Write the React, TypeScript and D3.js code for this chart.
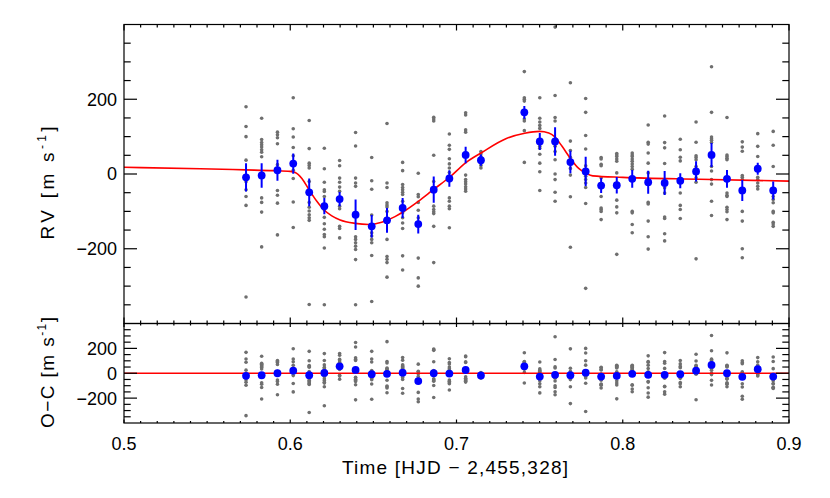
import React from 'react';
import * as d3 from 'd3';

// Column times (HJD - 2,455,328)
const times = [0.5734, 0.5828, 0.5923, 0.6018, 0.6114, 0.6205, 0.6297, 0.6393, 0.649, 0.6582, 0.6676, 0.677, 0.6863, 0.6957, 0.7055, 0.7147,
  0.7408, 0.7501, 0.7593, 0.7685, 0.7777, 0.787, 0.7964, 0.8057, 0.8153, 0.8252, 0.8346, 0.8441, 0.8534, 0.8627, 0.8719, 0.8812, 0.8905];

// Binned RV means and errors (blue)
const rvMean = [-9, -4, 10, 28, -49, -86, -67, -109, -140, -124, -91, -134, -42, -12, 51, 37,
  165, 87, 87, 32, 7, -31, -30, -13, -22, -24, -18, 7, 51, -13, -44, 14, -44];
const rvErr = [38, 33, 28, 27, 37, 22, 19, 41, 30, 33, 27, 25, 35, 22, 22, 15,
  17, 23, 38, 30, 39, 20, 22, 24, 31, 32, 20, 27, 32, 24, 28, 16, 24];

// Binned residuals O-C (blue, lower panel)
const resMean = [-21, -16, 0, 21, -16, 3, 56, 27, -8, -5, 5, -63, 0, -3, 26, -18,
  56, -27, -13, -16, 5, -27, -21, -5, -13, -13, -8, 21, 67, 0, -29, 32, -27];

// Individual RV measurements (grey) per column
const rvObs: number[][] = [
  [180, 127, 100, 37, -21, -42, -60, -84, -329],
  [149, 92, 84, 78, 72, 65, 58, 46, -64, -76, -102, -195],
  [112, 105, 97, 81, 25, -44, -57, -78, -163],
  [204, 121, 99, 71, 49, 10, -12, -75, -143],
  [143, 68, 29, 23, 16, -20, -76, -89, -99, -109, -117, -124, -349],
  [69, 14, -22, -42, -47, -60, -96, -116, -133, -148, -162, -168, -198, -350],
  [36, 22, -11, -22, -35, -46, -86, -93, -140, -146, -171],
  [111, 75, -11, -24, -33, -168, -175, -184, -193, -202, -229, -350],
  [44, -18, -41, -110, -157, -166, -175, -184, -218, -341],
  [135, -24, -36, -77, -83, -88, -100, -175, -221, -228, -237, -276],
  [31, 9, -28, -36, -42, -49, -55, -73, -104, -117, -131, -146, -219, -257],
  [2, -55, -61, -76, -97, -117, -225, -278, -300],
  [152, 147, 142, 50, -20, -86, -95, -101, -106, -140, -237],
  [107, 77, 66, 41, 27, 16, 4, -64, -73, -86, -93, -144],
  [164, 158, 118, 112, -3, -15, -21, -27, -34, -40, -46],
  [60, 54, 47, 29, 23, 16],
  [274, 204, 200, 195, 147, 142, 116, 31],
  [204, 149, 139, 130, 122, 74, 69, 53, 29, 6, -44],
  [393, 210, 151, 142, 74, 60, 38, 0, -15, -49, -73],
  [244, 88, 63, 45, 15, -3, -61, -196],
  [202, 165, 103, 67, 22, -6, -15, -24, -36, -79, -306],
  [44, 40, 26, 22, -10, -60, -91, -95, -100, -122],
  [55, 51, 47, 40, 34, 3, -70, -88, -104, -215],
  [56, 51, 47, 40, 34, 27, 20, 13, -100, -104, -135, -157],
  [131, 85, 80, 56, 29, 3, -76, -80, -126, -168, -201],
  [155, 84, 70, 28, -37, -51, -115, -119, -160, -179],
  [93, 65, 45, 35, -51, -84, -95, -119],
  [139, 85, 49, 44, 38, 20, -10, -22, -227],
  [287, 165, 99, 94, 90, 84, 20, 8, -15, -27, -73, -111],
  [151, 51, 47, 42, 38, -51, -57, -60, -89, -95, -101, -122],
  [86, 72, 61, -4, -9, -15, -100, -126, -200, -224],
  [108, 74, 47, -9, -15, -24, -33, -40],
  [114, 77, 20, -60, -68, -77, -100, -104, -129, -134, -140],
];

// Model curve (red)
const modelT = [0.5, 0.546, 0.573, 0.59, 0.6, 0.603, 0.607, 0.611, 0.616, 0.6205, 0.625, 0.63, 0.639, 0.647, 0.655, 0.663, 0.668,
  0.677, 0.686, 0.696, 0.7055, 0.715, 0.73, 0.741, 0.75, 0.7555, 0.759, 0.7635, 0.7685, 0.7735, 0.7777, 0.782, 0.8, 0.846, 0.9];
const modelV = [18, 14, 11, 9, 7, 4, -12, -40, -73, -97, -112, -123, -132, -135, -129, -114, -101,
  -73, -42, -8, 30, 57, 95, 109, 114, 110, 100, 74, 42, 15, 3, -5, -9, -14, -19];

const xTickLabels = ['0.5', '0.6', '0.7', '0.8', '0.9'];
const xMajorTicks = [0.5, 0.6, 0.7, 0.8, 0.9];
const yMajorTicks = [-200, 0, 200];
const yTickLabels = ['\u2212200', '0', '200'];

const W = 830;
const H = 498;
const X0 = 124, X1 = 789;
const TOP = 24.5, MID = 323.5, BOT = 423;
const FONT = '"Liberation Sans", Arial, Helvetica, sans-serif';
const GREY = '#6f6f6f';
const BLUE = '#0000ff';
const RED = '#ff0000';

export default function App() {
  const x = d3.scaleLinear().domain([0.5, 0.9]).range([X0, X1]);
  const yU = d3.scaleLinear().domain([-400, 400]).range([MID, TOP]);
  const yL = d3.scaleLinear().domain([-400, 400]).range([BOT, MID]);

  const xMinor = x.ticks(40);
  const yMinorU = yU.ticks(16).filter((v) => Math.abs(v) < 400);

  const line = d3.line<number>()
    .x((_, i) => x(modelT[i]))
    .y((v) => yU(v))
    .curve(d3.curveMonotoneX);
  const modelPath = line(modelV) || '';

  const isMajorX = (t: number) => xMajorTicks.some((m) => Math.abs(m - t) < 1e-6);

  const panelTicks = (ys: d3.ScaleLinear<number, number>, top: number, bottom: number, xMaj: number, xMin: number) => {
    const els: React.ReactNode[] = [];
    xMinor.forEach((t, i) => {
      const px = x(t);
      const len = isMajorX(t) ? xMaj : xMin;
      els.push(<line key={`xt${i}`} x1={px} x2={px} y1={top} y2={top + len} />);
      els.push(<line key={`xb${i}`} x1={px} x2={px} y1={bottom} y2={bottom - len} />);
    });
    yMinorU.forEach((v, i) => {
      const py = ys(v);
      const len = v % 200 === 0 ? 13 : 6.7;
      els.push(<line key={`yl${i}`} x1={X0} x2={X0 + len} y1={py} y2={py} />);
      els.push(<line key={`yr${i}`} x1={X1} x2={X1 - len} y1={py} y2={py} />);
    });
    return els;
  };

  return (
    <svg width={W} height={H} style={{ position: 'absolute', left: 0, top: 0, background: '#fff' }} fontFamily={FONT}>
      <defs>
        <clipPath id="clipU"><rect x={X0} y={TOP} width={X1 - X0} height={MID - TOP} /></clipPath>
        <clipPath id="clipL"><rect x={X0} y={MID} width={X1 - X0} height={BOT - MID} /></clipPath>
      </defs>

      {/* Upper panel */}
      <g clipPath="url(#clipU)">
        {rvObs.map((col, i) => col.map((v, j) => (
          <circle key={`g${i}-${j}`} cx={x(times[i])} cy={yU(v)} r={1.8} fill={GREY} />
        )))}
        <path d={modelPath} fill="none" stroke={RED} strokeWidth={1.6} />
        {times.map((t, i) => (
          <line key={`e${i}`} x1={x(t)} x2={x(t)} y1={yU(rvMean[i] - rvErr[i])} y2={yU(rvMean[i] + rvErr[i])} stroke={BLUE} strokeWidth={2} />
        ))}
        {times.map((t, i) => (
          <circle key={`b${i}`} cx={x(t)} cy={yU(rvMean[i])} r={3.9} fill={BLUE} />
        ))}
      </g>

      {/* Lower panel */}
      <g clipPath="url(#clipL)">
        {rvObs.map((col, i) => col.map((v, j) => (
          <circle key={`rg${i}-${j}`} cx={x(times[i])} cy={yL(v - (rvMean[i] - resMean[i]))} r={1.8} fill={GREY} />
        )))}
        <line x1={X0} x2={X1} y1={yL(0)} y2={yL(0)} stroke={RED} strokeWidth={1.6} />
        {times.map((t, i) => (
          <circle key={`rb${i}`} cx={x(t)} cy={yL(resMean[i])} r={3.9} fill={BLUE} />
        ))}
      </g>

      {/* Frames and ticks */}
      <g stroke="#000" strokeWidth={1.2} fill="none">
        <rect x={X0} y={TOP} width={X1 - X0} height={MID - TOP} />
        <rect x={X0} y={MID} width={X1 - X0} height={BOT - MID} />
        {panelTicks(yU, TOP, MID, 6, 3)}
        {panelTicks(yL, MID, BOT, 3.5, 2)}
      </g>

      {/* Y tick labels */}
      <g fontSize={18} fill="#000" textAnchor="end">
        {yMajorTicks.map((v, i) => (
          <text key={`yu${i}`} x={117} y={yU(v)} dy="0.36em">{yTickLabels[i]}</text>
        ))}
        {yMajorTicks.map((v, i) => (
          <text key={`yll${i}`} x={117} y={yL(v)} dy="0.36em">{yTickLabels[i]}</text>
        ))}
      </g>

      {/* X tick labels */}
      <g fontSize={18} fill="#000" textAnchor="middle">
        {xMajorTicks.map((t, i) => (
          <text key={`xl${i}`} x={x(t)} y={444} dy="0.36em">{xTickLabels[i]}</text>
        ))}
      </g>

      {/* Axis titles */}
      <text x={455} y={467} dy="0.36em" fontSize={19} textAnchor="middle" textLength={226} lengthAdjust="spacing">
        {'Time [HJD \u2212 2,455,328]'}
      </text>
      <text transform="translate(47,183) rotate(-90)" dy="0.36em" fontSize={19} textAnchor="middle" textLength={113} lengthAdjust="spacing">
        {'RV [m s'}<tspan fontSize={12} dy={-8}>-1</tspan><tspan dy={8}>]</tspan>
      </text>
      <text transform="translate(47,372.5) rotate(-90)" dy="0.36em" fontSize={19} textAnchor="middle" textLength={111} lengthAdjust="spacing">
        {'O\u2212C [m s'}<tspan fontSize={12} dy={-8}>-1</tspan><tspan dy={8}>]</tspan>
      </text>
    </svg>
  );
}
